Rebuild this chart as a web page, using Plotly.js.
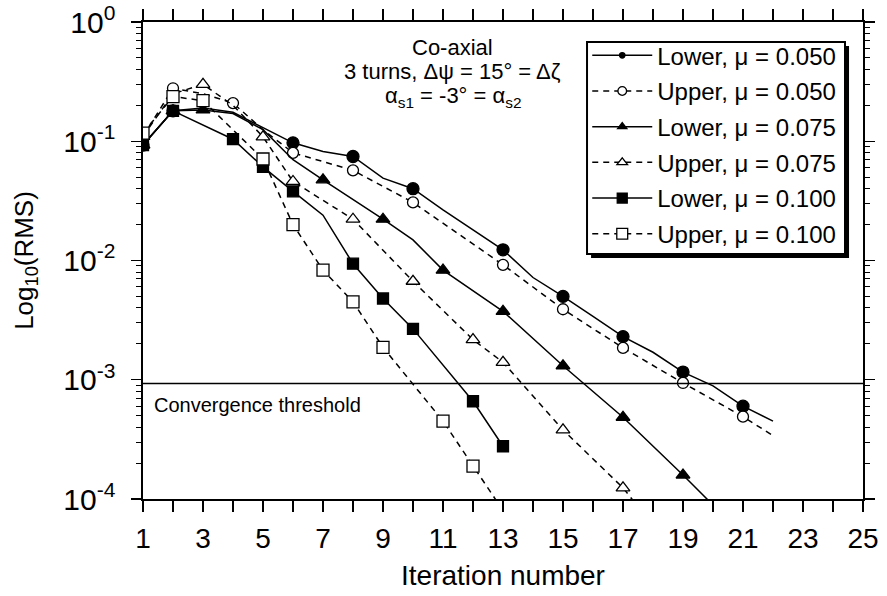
<!DOCTYPE html>
<html>
<head>
<meta charset="utf-8">
<script src="https://cdn.plot.ly/plotly-3.0.1.min.js"></script>
<style>
html,body{margin:0;padding:0;background:#fff;}
#chart{width:887px;height:596px;}
</style>
</head>
<body>
<div id="chart"></div>
<script>
// ---- data ----
const seriesNames = ["Lower, μ = 0.050","Upper, μ = 0.050","Lower, μ = 0.075","Upper, μ = 0.075","Lower, μ = 0.100","Upper, μ = 0.100"];

const iterLower050 = [1,2,3,4,5,6,7,8,9,10,11,12,13,14,15,16,17,18,19,20,21,22];
const rmsLower050  = [0.093,0.18,0.19,0.175,0.13,0.097,0.082,0.0745,0.049,0.040,0.0266,0.018,0.0123,0.0072,0.0050,0.0034,0.0023,0.0017,0.00116,0.00089,0.0006,0.00045];
const markLower050 = [1,2,6,8,10,13,15,17,19,21];

const iterUpper050 = [1,2,3,4,5,6,8,10,13,15,17,19,21,22];
const rmsUpper050  = [0.11,0.278,0.25,0.209,0.125,0.080,0.057,0.0307,0.0092,0.0039,0.00185,0.00094,0.00049,0.00034];
const markUpper050 = [1,2,4,6,8,10,13,15,17,19,21];

const iterLower075 = [1,2,3,4,5,6,7,9,10,11,13,15,17,19,20];
const rmsLower075  = [0.093,0.18,0.183,0.171,0.125,0.070,0.0475,0.0222,0.0149,0.0083,0.00375,0.00131,0.000485,0.000159,0.000089];
const markLower075 = [1,2,3,7,9,11,13,15,17,19];

const iterUpper075 = [1,2,3,4,5,6,8,10,12,13,15,17,18];
const rmsUpper075  = [0.11,0.25,0.30,0.20,0.109,0.046,0.0222,0.0067,0.00217,0.0014,0.00038,0.000124,0.00006];
const markUpper075 = [1,3,5,6,8,10,12,13,15,17];

const iterLower100 = [1,2,4,5,6,7,8,9,10,12,13];
const rmsLower100  = [0.093,0.18,0.104,0.061,0.038,0.024,0.0094,0.0048,0.00267,0.00066,0.000277];
const markLower100 = [1,2,4,5,6,8,9,10,12,13];

const iterUpper100 = [1,2,3,5,6,7,8,9,11,12,13];
const rmsUpper100  = [0.117,0.237,0.219,0.071,0.020,0.0083,0.0045,0.00187,0.00045,0.000189,0.00008];
const markUpper100 = [1,2,3,5,6,7,8,9,11,12];

const thresholdValue = 0.00093;
const thresholdLabel = "Convergence threshold";
const noteLines = ["Co-axial", "3 turns, Δψ = 15° = Δζ", "α<sub>s1</sub> = -3° = α<sub>s2</sub>"];

const xTickVals = [1,3,5,7,9,11,13,15,17,19,21,23,25];
const xMinorVals = [2,4,6,8,10,12,14,16,18,20,22,24];
const yTickVals = [1,0.1,0.01,0.001,0.0001];
const yTickText = ["10<sup>0</sup>","10<sup>-1</sup>","10<sup>-2</sup>","10<sup>-3</sup>","10<sup>-4</sup>"];
const yMinorMantissas = [2,3,4,5,6,7,8,9];

// ---- styles ----
const FONT = "'Liberation Sans', Arial, Helvetica, sans-serif";
function mk(name, xs, ys, marks, dash, symbol, filled, size){
  return {
    type:'scatter', mode:'lines+markers', name:name, legendgroup:name,
    x:xs, y:ys,
    line:{color:'#000', width:1.5, dash:dash},
    marker:{
      symbol:symbol, color: filled ? '#000' : '#fff', opacity:1,
      size: xs.map(v => marks.includes(v) ? size : 0),
      line:{color:'#000', width:1.3}
    },
    cliponaxis:true
  };
}
const DASH = '6px,5px';
const traces = [
  mk(seriesNames[0], iterLower050, rmsLower050, markLower050, 'solid', 'circle', true, 12),
  mk(seriesNames[1], iterUpper050, rmsUpper050, markUpper050, DASH, 'circle', false, 11),
  mk(seriesNames[2], iterLower075, rmsLower075, markLower075, 'solid', 'triangle-up', true, 12),
  mk(seriesNames[3], iterUpper075, rmsUpper075, markUpper075, DASH, 'triangle-up', false, 12),
  mk(seriesNames[4], iterLower100, rmsLower100, markLower100, 'solid', 'square', true, 11),
  mk(seriesNames[5], iterUpper100, rmsUpper100, markUpper100, DASH, 'square', false, 12)
];

const yMinorVals = [];
for (let e = -4; e < 0; e++) yMinorMantissas.forEach(m => yMinorVals.push(m * Math.pow(10, e)));

// legend frame (paper coords) with a drop shadow
const boxL = 0.6167, boxR = 0.975, boxT = 0.958, boxB = 0.5136, shX = 0.0056, shY = 0.0084;

const noteY = [0.977, 0.927, 0.877];
const layout = {
  width:887, height:596,
  margin:{l:143, r:24, t:22, b:97},
  paper_bgcolor:'#fff', plot_bgcolor:'#fff',
  font:{family:FONT, color:'#000', size:20},
  showlegend:true,
  legend:{
    x:0.617, y:0.9766, xanchor:'left', yanchor:'top',
    bgcolor:'rgba(0,0,0,0)', borderwidth:0,
    font:{family:FONT, size:24, color:'#000'},
    tracegroupgap:1.5, itemwidth:60
  },
  xaxis:{
    range:[1,25], tickvals:xTickVals, ticks:'outside', ticklen:11, tickwidth:1.3,
    tickcolor:'#000', showline:true, linecolor:'#000', linewidth:1.6, mirror:'allticks',
    showgrid:false, zeroline:false, tickfont:{size:28, family:FONT},
    ticklabelstandoff:3,
    minor:{tickvals:xMinorVals, ticks:'outside', ticklen:11, tickcolor:'#000', tickwidth:1.3},
    title:{text:'Iteration number', font:{size:28, family:FONT}, standoff:12}
  },
  yaxis:{
    type:'log', range:[-4,0], tickvals:yTickVals, ticktext:yTickText,
    ticks:'outside', ticklen:10, tickwidth:1.3, tickcolor:'#000',
    showline:true, linecolor:'#000', linewidth:1.6, mirror:'allticks',
    showgrid:false, zeroline:false, tickfont:{size:30, family:FONT},
    ticklabelstandoff:10,
    minor:{tickvals:yMinorVals, ticks:'outside', ticklen:5, tickcolor:'#000', tickwidth:1, showgrid:false},
    title:{text:'Log<sub>10</sub>(RMS)', font:{size:26, family:FONT}, standoff:22}
  },
  shapes:[
    {type:'line', xref:'paper', x0:0, x1:1, yref:'y', y0:thresholdValue, y1:thresholdValue,
     line:{color:'#000', width:1.6}},
    {type:'rect', xref:'paper', yref:'paper', layer:'above',
     x0:boxL+shX, x1:boxR+shX, y0:boxB-shY, y1:boxT-shY, fillcolor:'#000', line:{width:0}},
    {type:'rect', xref:'paper', yref:'paper', layer:'above',
     x0:boxL, x1:boxR, y0:boxB, y1:boxT, fillcolor:'#fff', line:{color:'#000', width:2}}
  ],
  annotations: noteLines.map((t,i) => ({
     xref:'paper', yref:'paper', x:0.43, y:noteY[i], xanchor:'center', yanchor:'top', showarrow:false,
     font:{size:22, family:FONT}, text:t})).concat([
    {xref:'paper', yref:'y', x:0.012, y:Math.log10(thresholdValue), xanchor:'left', yanchor:'top', yshift:-8,
     showarrow:false, font:{size:20, family:FONT}, text:thresholdLabel}
  ])
};

Plotly.newPlot('chart', traces, layout, {displayModeBar:false, staticPlot:true});
</script>
</body>
</html>
